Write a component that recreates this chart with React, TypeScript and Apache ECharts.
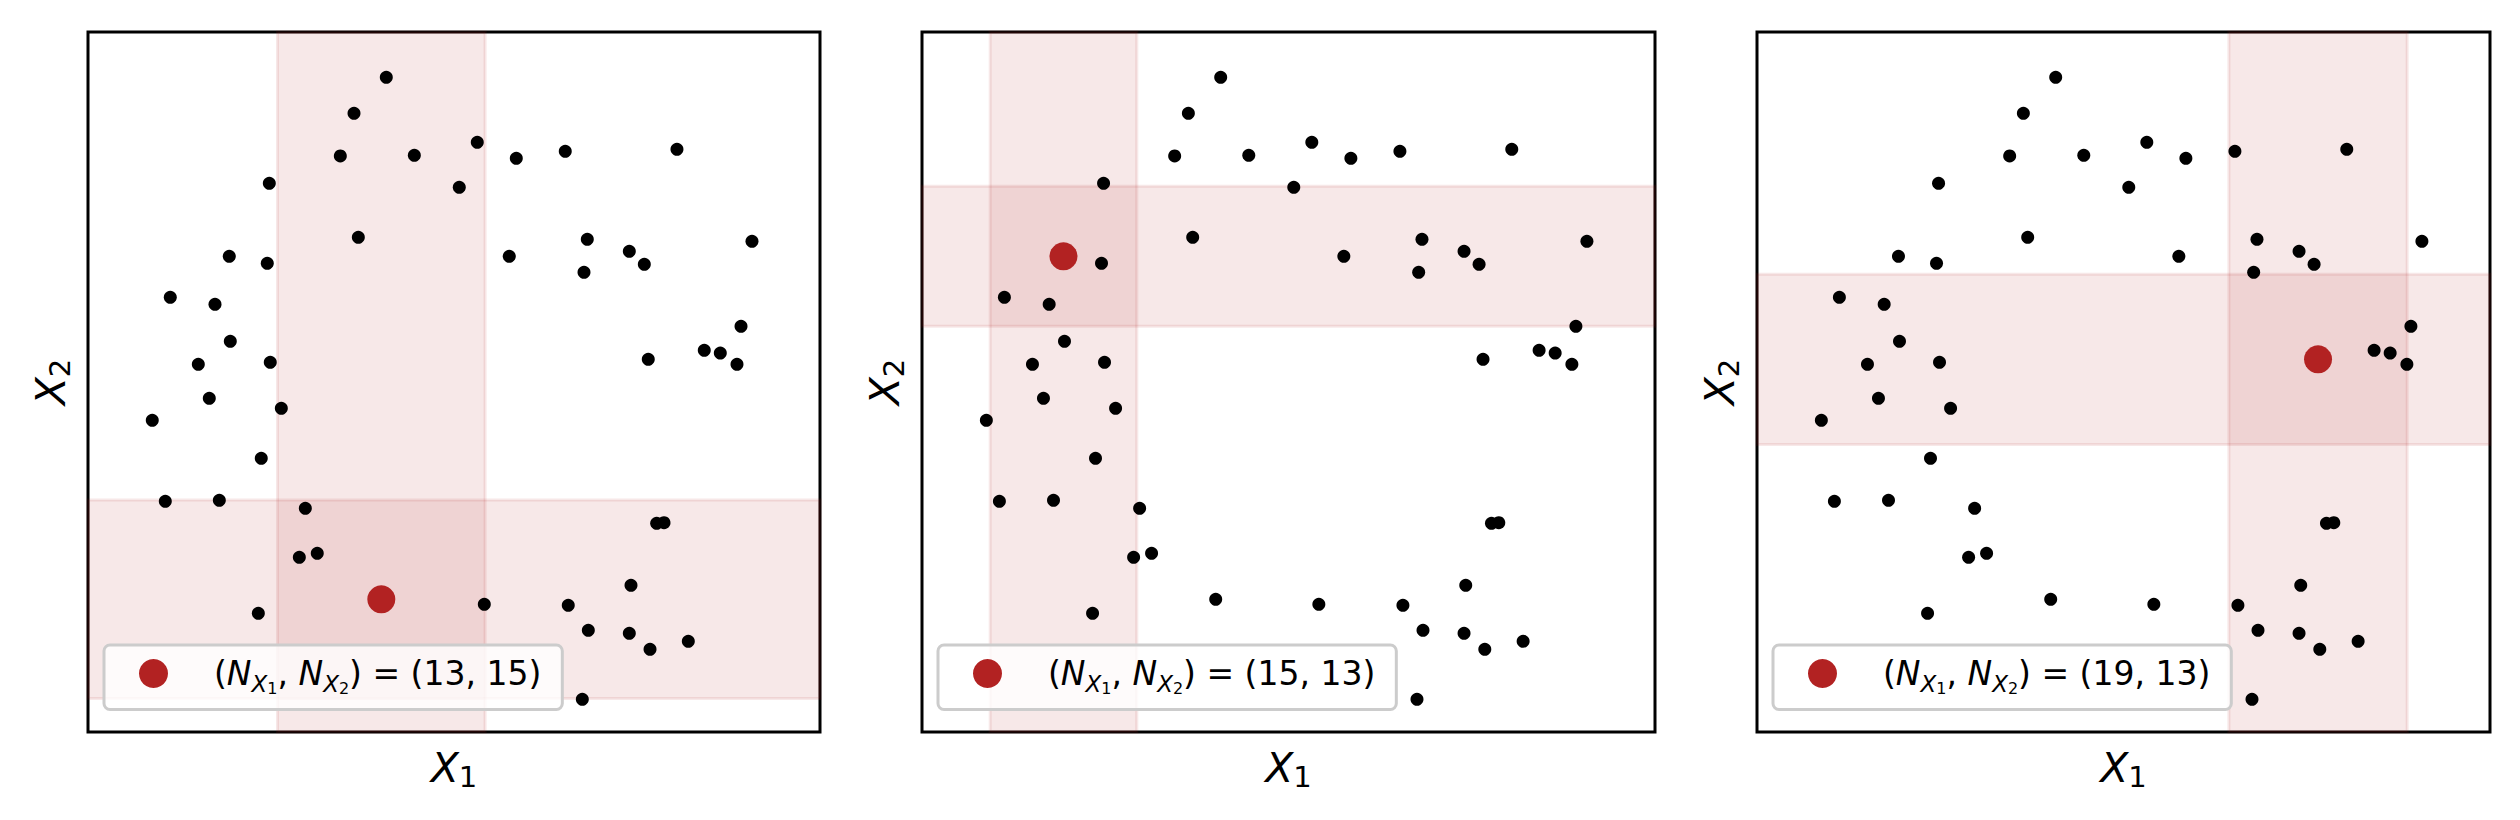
import React, { useEffect, useRef } from "react";
import * as echarts from "echarts";

// ---- data (axes normalised to [0, 1]) ----
const pointsX = [
  0.4075, 0.3634, 0.5318, 0.3447, 0.4458, 0.2477, 0.5072, 0.3693, 0.193, 0.2449,
  0.1124, 0.1735, 0.1944, 0.1507, 0.249, 0.5851, 0.652, 0.8046, 0.6821, 0.5755,
  0.6776, 0.7395, 0.76, 0.9071, 0.8921, 0.8419, 0.8638, 0.8866, 0.7654, 0.1657,
  0.0878, 0.2641, 0.2367, 0.1056, 0.1794, 0.2969, 0.2887, 0.3132, 0.2327, 0.7769,
  0.7869, 0.7418, 0.5414, 0.6561, 0.6835, 0.7395, 0.7678, 0.8201, 0.6753, 0.4007,
];
const pointsY = [
  0.9353, 0.8839, 0.8424, 0.8229, 0.8239, 0.7839, 0.7781, 0.7067, 0.6796, 0.6696,
  0.621, 0.611, 0.5581, 0.5253, 0.5281, 0.8196, 0.8296, 0.8324, 0.7039, 0.6796,
  0.6567, 0.6867, 0.6681, 0.701, 0.5796, 0.5453, 0.5414, 0.5253, 0.5324, 0.4767,
  0.4453, 0.4624, 0.391, 0.3296, 0.331, 0.3196, 0.2496, 0.2553, 0.1696, 0.2981,
  0.299, 0.2096, 0.1824, 0.181, 0.1453, 0.141, 0.1181, 0.1296, 0.0467, 0.1896,
];
// index of the highlighted query point in each panel
const queryIndex = [49, 8, 28];
// half-width of the highlighted strips in each panel
const epsilon = [0.1418, 0.1, 0.1216];
// neighbour counts shown in the legends
const countX1 = [13, 15, 19];
const countX2 = [15, 13, 13];

// ---- layout / style ----
const FONT = "DejaVu Sans";
const RED = "#b22222";
const gridLefts = [88, 922, 1757];
const gridWidths = [732, 733, 733];
const GRID_TOP = 32;
const GRID_H = 700;

const axisRich = {
  i: { fontSize: 41, fontFamily: FONT, fontStyle: "italic", color: "#000" },
  s: { fontSize: 29, fontFamily: FONT, color: "#000", padding: [18, 0, 0, 0] },
};

const legendRich = {
  g: { width: 41, fontSize: 33, fontFamily: FONT, color: "#000" },
  t: { fontSize: 33, fontFamily: FONT, color: "#000" },
  i: { fontSize: 33, fontFamily: FONT, fontStyle: "italic", color: "#000" },
  s: { fontSize: 23, fontFamily: FONT, fontStyle: "italic", color: "#000", padding: [20, 0, 0, 0] },
  ss: { fontSize: 16, fontFamily: FONT, color: "#000", padding: [30, 0, 0, 0] },
};

function buildOption() {
  const points = pointsX.map((x, i) => [x, pointsY[i]]);
  const panels = [0, 1, 2];
  const grid = panels.map((p) => ({
    left: gridLefts[p],
    top: GRID_TOP,
    width: gridWidths[p],
    height: GRID_H,
    show: true,
    borderColor: "#000",
    borderWidth: 3,
    backgroundColor: "transparent",
  }));
  const baseAxis = {
    type: "value",
    min: 0,
    max: 1,
    axisLine: { show: false },
    axisTick: { show: false },
    axisLabel: { show: false },
    splitLine: { show: false },
    nameLocation: "middle",
  };
  const xAxis = panels.map((p) => ({
    ...baseAxis,
    gridIndex: p,
    name: "{i|X}{s|1}",
    nameGap: 12,
    nameTextStyle: { rich: axisRich },
  }));
  const yAxis = panels.map((p) => ({
    ...baseAxis,
    gridIndex: p,
    name: "{i|X}{s|2}",
    nameGap: 14,
    nameTextStyle: { rich: axisRich },
  }));
  const series: any[] = [];
  panels.forEach((p) => {
    const q = points[queryIndex[p]];
    const e = epsilon[p];
    series.push({
      type: "scatter",
      name: "points" + p,
      xAxisIndex: p,
      yAxisIndex: p,
      data: points,
      symbol: "circle",
      symbolSize: 13,
      itemStyle: { color: "#000", opacity: 1 },
      silent: true,
      z: 2,
      markArea: {
        silent: true,
        label: { show: false },
        itemStyle: {
          color: "rgba(178,34,34,0.1)",
          borderColor: "rgba(178,34,34,0.1)",
          borderWidth: 3,
        },
        data: [
          [{ xAxis: q[0] - e }, { xAxis: q[0] + e }],
          [{ yAxis: q[1] - e }, { yAxis: q[1] + e }],
        ],
      },
    });
    series.push({
      type: "scatter",
      name: "query" + p,
      xAxisIndex: p,
      yAxisIndex: p,
      data: [q],
      symbol: "circle",
      symbolSize: 28,
      itemStyle: { color: RED, opacity: 1 },
      silent: true,
      z: 3,
    });
  });
  const legend = panels.map((p) => ({
    data: [{ name: "query" + p, icon: "circle", itemStyle: { color: RED, opacity: 1 } }],
    left: gridLefts[p] + 16,
    top: 645,
    orient: "horizontal",
    itemWidth: 29,
    itemHeight: 29,
    padding: [12, 21, 13, 35],
    backgroundColor: "rgba(255,255,255,0.8)",
    borderColor: "#cccccc",
    borderWidth: 3,
    borderRadius: 6,
    selectedMode: false,
    formatter: () =>
      `{g| }{t|(}{i|N}{s|X}{ss|1}{t|, }{i|N}{s|X}{ss|2}{t|) = (${countX1[p]}, ${countX2[p]})}`,
    textStyle: { rich: legendRich, fontFamily: FONT, fontSize: 33, color: "#000" },
  }));
  return {
    animation: false,
    backgroundColor: "#fff",
    grid,
    xAxis,
    yAxis,
    legend,
    series,
  };
}

export default function App() {
  const ref = useRef<HTMLDivElement>(null);
  useEffect(() => {
    document.body.style.margin = "0";
    const chart = echarts.init(ref.current!, null, { renderer: "svg", width: 2520, height: 820 });
    chart.setOption(buildOption() as any);
    return () => chart.dispose();
  }, []);
  return (
    <div
      ref={ref}
      style={{ position: "absolute", left: 0, top: 0, width: 2520, height: 820, background: "#fff" }}
    />
  );
}
